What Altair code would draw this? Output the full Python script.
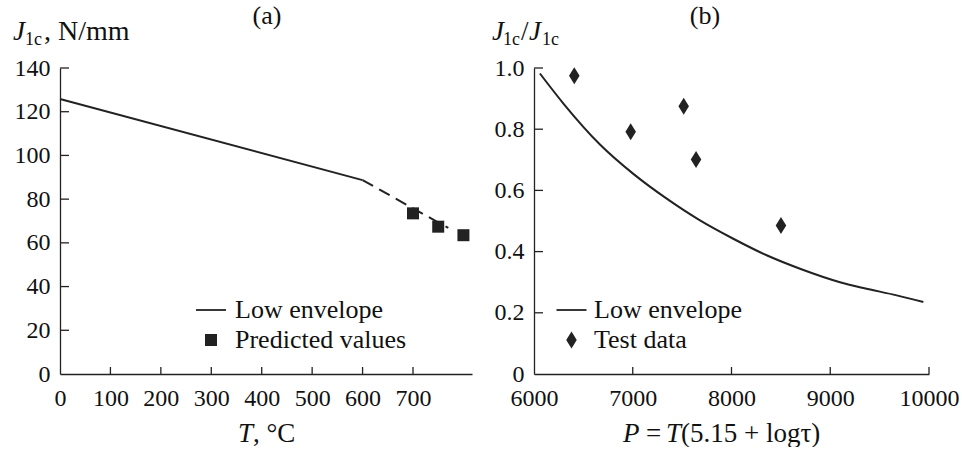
import altair as alt
import pandas as pd

# ---------------- data ----------------
# Panel (a)
env_T_solid = [0, 600]
env_J_solid = [125.8, 88.7]
env_T_dash = [600, 770]
env_J_dash = [88.7, 66.8]
pred_T = [700, 750, 800]
pred_J = [73.5, 67.4, 63.5]
a_xticks = [0, 100, 200, 300, 400, 500, 600, 700]
a_yticks = [0, 20, 40, 60, 80, 100, 120, 140]

# Panel (b)
env_P = [6060, 6300, 6668, 7006, 7344, 7681, 8018, 8356, 8694, 9099, 9336, 9673, 9943]
env_R = [0.982, 0.883, 0.750, 0.654, 0.573, 0.502, 0.442, 0.388, 0.344, 0.300, 0.281, 0.257, 0.235]
test_P = [6408, 6979, 7516, 7641, 8501]
test_R = [0.975, 0.792, 0.875, 0.701, 0.485]
b_xticks = [6000, 7000, 8000, 9000, 10000]
b_yticks = [0, 0.2, 0.4, 0.6, 0.8, 1.0]

FONT = "Liberation Serif"
INK = "#222222"
TXT = "#111111"

WA, HA = 412, 306
WB, HB = 395, 306

one = pd.DataFrame({"k": [0]})


def txt(s, x, y, size=26, italic=False, align="left"):
    kw = dict(font=FONT, fontSize=size, align=align, baseline="alphabetic", color=TXT)
    if italic:
        kw["fontStyle"] = "italic"
    return alt.Chart(one).mark_text(**kw).encode(
        x=alt.value(x), y=alt.value(y), text=alt.value(s)
    )


def pin(x, y):
    return alt.Chart(one).mark_rule(opacity=0, strokeWidth=0).encode(
        x=alt.value(x), x2=alt.value(x), y=alt.value(y), y2=alt.value(y + 1)
    )


def legend(x, size, offset):
    return alt.Legend(
        title=None, orient="none", legendX=x, legendY=229, labelFont=FONT, labelFontSize=26,
        labelColor=TXT, labelLimit=400, symbolSize=size, symbolFillColor=INK, symbolStrokeWidth=0,
        labelOffset=offset, rowPadding=4, padding=0, symbolOpacity=1,
    )


def axis(values, pad, **kw):
    return alt.Axis(values=values, title=None, labelPadding=pad, labelFlush=False,
                    labelOverlap=False, labelFont=FONT, labelFontSize=24, labelColor=TXT,
                    ticks=False, domainColor=INK, domainWidth=1.3, grid=False, **kw)


# ---------------- panel (a) ----------------
xa = alt.Scale(domain=[0, 817], nice=False, zero=False)
ya = alt.Scale(domain=[0, 140], nice=False)

dfa_s = pd.DataFrame({"T": env_T_solid, "J": env_J_solid})
dfa_d = pd.DataFrame({"T": env_T_dash, "J": env_J_dash})
dfa_p = pd.DataFrame({"T": pred_T, "J": pred_J, "series": ["Predicted values"] * len(pred_T)})

a_solid = alt.Chart(dfa_s).mark_line(color=INK, strokeWidth=2).encode(
    x=alt.X("T:Q", scale=xa, axis=axis(a_xticks, 12, format="d")),
    y=alt.Y("J:Q", scale=ya, axis=axis(a_yticks, 10, format="d")),
)
a_dash = alt.Chart(dfa_d).mark_line(color=INK, strokeWidth=2, strokeDash=[12, 7]).encode(
    x=alt.X("T:Q", scale=xa), y=alt.Y("J:Q", scale=ya)
)
a_line_sym = "M-2.5,-0.15L2.5,-0.15L2.5,0.15L-2.5,0.15Z"
a_pts = alt.Chart(dfa_p).mark_point(filled=True, color=INK, size=144, opacity=1, strokeWidth=0).encode(
    x=alt.X("T:Q", scale=xa),
    y=alt.Y("J:Q", scale=ya),
    shape=alt.Shape(
        "series:N",
        scale=alt.Scale(domain=["Low envelope", "Predicted values"], range=[a_line_sym, "square"]),
        legend=legend(138, 144, 11),
    ),
)
a_xt = alt.Chart(pd.DataFrame({"v": a_xticks[1:]})).mark_rule(color=INK, strokeWidth=1.3).encode(
    x=alt.X("v:Q", scale=xa), y=alt.value(HA), y2=alt.value(HA - 7)
)
a_yt = alt.Chart(pd.DataFrame({"v": a_yticks[1:]})).mark_rule(color=INK, strokeWidth=1.3).encode(
    y=alt.Y("v:Q", scale=ya), x=alt.value(0), x2=alt.value(9)
)

a_texts = [
    txt("(a)", 207, -44, align="center"),
    txt("J", -47, -28, size=27, italic=True),
    txt("1c", -35, -23, size=18),
    txt(", N/mm", -16, -28, size=28),
    txt("T", 178, 374, size=27, italic=True),
    txt(", °C", 193, 374, size=27),
]

panel_a = alt.layer(a_solid, a_dash, a_xt, a_yt, a_pts, pin(-60, -68), *a_texts).properties(
    width=WA, height=HA
)

# ---------------- panel (b) ----------------
xb = alt.Scale(domain=[6000, 10000], nice=False, zero=False)
yb = alt.Scale(domain=[0, 1], nice=False)

dfb_l = pd.DataFrame({"P": env_P, "R": env_R})
dfb_p = pd.DataFrame({"P": test_P, "R": test_R, "series2": ["Test data"] * len(test_P)})

b_line = alt.Chart(dfb_l).mark_line(color=INK, strokeWidth=2, interpolate="monotone").encode(
    x=alt.X("P:Q", scale=xb, axis=axis(b_xticks, 12, format="d")),
    y=alt.Y("R:Q", scale=yb, axis=axis(
        b_yticks, 10, labelExpr="datum.value == 0 ? '0' : format(datum.value, '.1f')")),
)
b_line_sym = "M-1.765,-0.106L1.765,-0.106L1.765,0.106L-1.765,0.106Z"
diamond = "M0,-1L0.62,0L0,1L-0.62,0Z"
b_pts = alt.Chart(dfb_p).mark_point(filled=True, color=INK, size=289, opacity=1, strokeWidth=0).encode(
    x=alt.X("P:Q", scale=xb),
    y=alt.Y("R:Q", scale=yb),
    shape=alt.Shape(
        "series2:N",
        scale=alt.Scale(domain=["Low envelope", "Test data"], range=[b_line_sym, diamond]),
        legend=legend(24.5, 289, 9.5),
    ),
)
b_xt = alt.Chart(pd.DataFrame({"v": b_xticks[1:]})).mark_rule(color=INK, strokeWidth=1.3).encode(
    x=alt.X("v:Q", scale=xb), y=alt.value(HB), y2=alt.value(HB - 7)
)
b_yt = alt.Chart(pd.DataFrame({"v": b_yticks[1:]})).mark_rule(color=INK, strokeWidth=1.3).encode(
    y=alt.Y("v:Q", scale=yb), x=alt.value(0), x2=alt.value(9)
)

b_texts = [
    txt("(b)", 171, -44, align="center"),
    txt("J", -42, -28, size=27, italic=True),
    txt("1c", -31, -23, size=18),
    txt("/", -13, -28, size=27),
    txt("J", -5, -28, size=27, italic=True),
    txt("1c", 8, -23, size=18),
    txt("P", 89, 374, size=27, italic=True),
    txt("=", 112, 374, size=27),
    txt("T", 132, 374, size=27, italic=True),
    txt("(5.15 + logτ)", 147, 374, size=27),
]

panel_b = alt.layer(b_line, b_xt, b_yt, b_pts, *b_texts).properties(width=WB, height=HB)

chart = (
    alt.hconcat(panel_a, panel_b, spacing=62, bounds="flush")
    .resolve_scale(shape="independent")
    .resolve_legend(shape="independent")
    .properties(padding=0)
    .configure(font=FONT)
    .configure_view(stroke=None)
    .configure_axis(labelFont=FONT, labelFontSize=24, labelColor=TXT)
    .configure_legend(labelFont=FONT, labelFontSize=26, labelColor=TXT)
    .configure_text(font=FONT)
)

chart.save("out.html", embed_options={"renderer": "svg", "actions": False})
